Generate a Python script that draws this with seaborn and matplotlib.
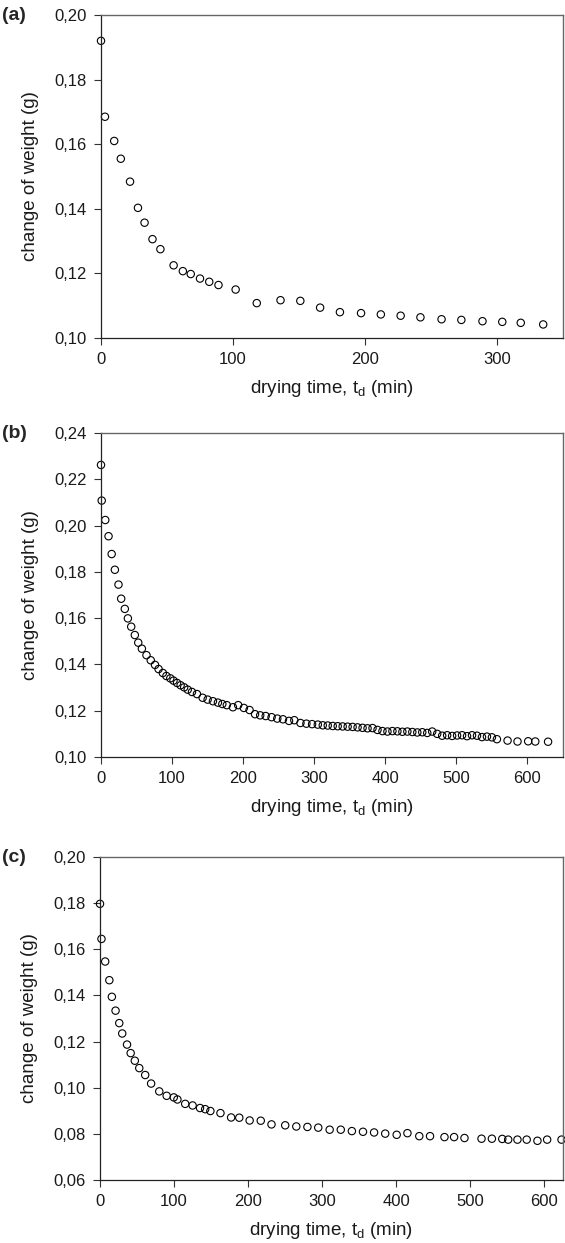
import numpy as np
import pandas as pd
import seaborn as sns
import matplotlib.pyplot as plt
from matplotlib.ticker import FuncFormatter, MultipleLocator

# panel (a)
a_time = [0, 3, 10, 15, 22, 28, 33, 39, 45, 55, 62, 68, 75, 82, 89, 102, 118, 136, 151, 166,
          181, 197, 212, 227, 242, 258, 273, 289, 304, 318, 335]
a_weight = [0.1920, 0.1685, 0.1610, 0.1555, 0.1484, 0.1403, 0.1357, 0.1306, 0.1275, 0.1225,
            0.1207, 0.1198, 0.1184, 0.1174, 0.1164, 0.1150, 0.1108, 0.1117, 0.1115, 0.1094,
            0.1080, 0.1077, 0.1073, 0.1069, 0.1064, 0.1058, 0.1056, 0.1052, 0.1050, 0.1047, 0.1042]

# panel (b)
b_time = [0, 1, 6, 10.6, 15, 19.5, 24.6, 28.4, 33.5, 37.8, 42.5, 47.6, 52.4, 57.5, 64, 70, 76,
          81, 87, 92, 97.5, 102, 107, 112, 117, 122, 128, 135, 143, 150, 157.5, 164.5, 170.7,
          177, 185.6, 193, 201, 209, 216.7, 224, 231.7, 240, 248, 256, 264.5, 272, 280.6, 289,
          297, 305, 312,
          319, 326, 333, 340, 347, 354, 361, 368, 375, 382, 389, 396, 403, 410, 417, 424, 431,
          438, 445, 452, 459, 466, 473, 480, 487, 494, 501, 508, 515, 522, 529, 536, 543, 550,
          557, 572, 586, 601, 611, 629]
b_weight = [0.2262, 0.2108, 0.2024, 0.1954, 0.1877, 0.1809, 0.1745, 0.1684, 0.1640, 0.1599,
            0.1563, 0.1527, 0.1494, 0.1468, 0.1440, 0.1418, 0.1398, 0.1380, 0.1363, 0.1350,
            0.1340, 0.1330, 0.1320, 0.1310, 0.1301, 0.1291, 0.1281, 0.1272, 0.1256, 0.1248,
            0.1241, 0.1235, 0.1229, 0.1224, 0.1215, 0.1224, 0.1212, 0.1203, 0.1185, 0.1180,
            0.1177, 0.1172, 0.1166, 0.1163, 0.1156, 0.1159, 0.1147, 0.1144, 0.1142, 0.1140,
            0.1137,
            0.1136, 0.1134, 0.1133, 0.1132, 0.1131, 0.1130, 0.1128, 0.1126, 0.1124, 0.1125,
            0.1117, 0.1112, 0.1110, 0.1112, 0.1111, 0.1109, 0.1110, 0.1108, 0.1106, 0.1107,
            0.1104, 0.1110, 0.1100, 0.1092, 0.1094, 0.1091, 0.1093, 0.1094, 0.1090, 0.1094,
            0.1092, 0.1086, 0.1088, 0.1085, 0.1077, 0.1071, 0.1067, 0.1068, 0.1067, 0.1066]

# panel (c)
c_time = [0, 2, 7, 12.6, 16, 21, 26, 30, 36.5, 41.4, 47, 53, 61, 69, 80, 90, 99.6, 104.5, 115,
          125, 135, 142, 149, 162.6, 177, 188, 202, 217, 231.5, 250, 265, 280, 294.6, 310, 325,
          340, 355, 370, 385, 400.5, 415, 431, 445.5, 465, 478, 492, 515, 529, 543, 551,
          563.5, 576, 590.5, 603.6, 623]
c_weight = [0.1797, 0.1645, 0.1547, 0.1466, 0.1394, 0.1334, 0.1280, 0.1235, 0.1187, 0.1150,
            0.1117, 0.1085, 0.1055, 0.1018, 0.0984, 0.0965, 0.0958, 0.0949, 0.0930, 0.0923,
            0.0912, 0.0907, 0.0899, 0.0890, 0.0871, 0.0870, 0.0858, 0.0857, 0.0841, 0.0837,
            0.0832, 0.0830, 0.0827, 0.0818, 0.0818, 0.0812, 0.0809, 0.0806, 0.0801, 0.0796,
            0.0803, 0.0790, 0.0790, 0.0786, 0.0786, 0.0782, 0.0779, 0.0779, 0.0778, 0.0775,
            0.0775, 0.0775, 0.0770, 0.0775, 0.0775]

panels = [
    ("(a)", a_time, a_weight, (0, 350), (0.10, 0.20), 0.02, 1 - 15 / 1243,
     [101 / 565, 1 - 338 / 1243, 462 / 565, 323 / 1243]),
    ("(b)", b_time, b_weight, (0, 650), (0.10, 0.24), 0.02, 1 - 433 / 1243,
     [101 / 565, 1 - 757 / 1243, 462 / 565, 324 / 1243]),
    ("(c)", c_time, c_weight, (0, 625), (0.06, 0.20), 0.02, 1 - 857 / 1243,
     [100 / 565, 1 - 1180 / 1243, 463 / 565, 323 / 1243]),
]

sns.set_style("ticks")
plt.rcParams['font.family'] = ['Liberation Sans', 'DejaVu Sans']
plt.rcParams['mathtext.default'] = 'regular'

fig = plt.figure(figsize=(5.65, 12.43), dpi=100)
comma = FuncFormatter(lambda v, p: "{:.2f}".format(v).replace('.', ','))

for tag, t, w, xl, yl, ystep, ytag, rect in panels:
    ax = fig.add_axes(rect)
    df = pd.DataFrame({"time": t, "weight": w})
    sns.scatterplot(data=df, x="time", y="weight", ax=ax, marker='o', s=28,
                    facecolors='none', edgecolor='black', linewidth=0.8, clip_on=False)
    ax.set_xlim(*xl)
    ax.set_ylim(*yl)
    ax.xaxis.set_major_locator(MultipleLocator(100))
    ax.yaxis.set_major_locator(MultipleLocator(ystep))
    ax.yaxis.set_major_formatter(comma)
    ax.tick_params(axis='both', labelsize=12, length=5, width=0.8, color='#333333',
                   pad=5, labelcolor='#1a1a1a')
    ax.set_xlabel("drying time, t$_d$ (min)", fontsize=13.5, labelpad=8, color='#1a1a1a')
    ax.set_ylabel("change of weight (g)", fontsize=13.5, labelpad=11, color='#1a1a1a')
    for side in ['left', 'bottom']:
        ax.spines[side].set_color('#222222')
        ax.spines[side].set_linewidth(0.9)
    for side in ['top', 'right']:
        ax.spines[side].set_color('#666666')
        ax.spines[side].set_linewidth(1.0)
    fig.text(0.004, ytag, tag, fontsize=14, fontweight='bold', va='center', ha='left')

fig.savefig("out.png", dpi=100)
